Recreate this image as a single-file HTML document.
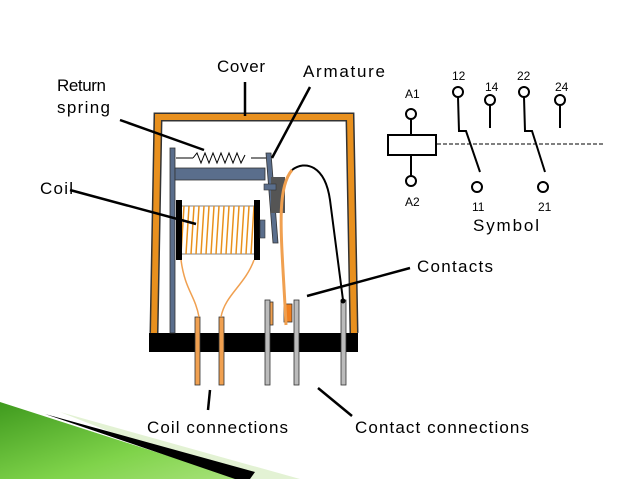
<!DOCTYPE html><html><head><style>body{margin:0;background:#fff}svg{display:block}text{font-family:"Liberation Sans",sans-serif;fill:#000}</style></head><body>
<svg width="638" height="479" viewBox="0 0 638 479">
<defs><linearGradient id="g" x1="0" y1="0" x2="1" y2="1"><stop offset="0" stop-color="#3f9a1e"/><stop offset="0.6" stop-color="#7fd34a"/><stop offset="1" stop-color="#a8e27a"/></linearGradient></defs>
<polygon points="60,412 300,479 230,479" fill="#e3f2d4"/>
<polygon points="0,402 240,479 0,479" fill="url(#g)"/>
<polygon points="45,414 255,472 250,479 235,479" fill="#000"/>
<polyline points="154,333 158,117 350,117 354,333" fill="none" stroke="#333" stroke-width="9"/>
<polyline points="154,333 158,117 350,117 354,333" fill="none" stroke="#E8901E" stroke-width="6"/>
<line x1="245" y1="82" x2="245" y2="116" stroke="#000" stroke-width="2.5"/>
<rect x="149" y="333" width="209" height="19" fill="#000"/>
<g stroke="#333" stroke-width="0.8">
<rect x="195" y="317" width="5" height="68" fill="#F0A050"/>
<rect x="219" y="317" width="5" height="68" fill="#F0A050"/>
<rect x="265" y="300" width="5" height="85" fill="#bbb"/>
<rect x="294" y="300" width="5" height="85" fill="#bbb"/>
<rect x="341" y="300" width="5" height="85" fill="#bbb"/>
<rect x="270" y="302" width="3" height="23" fill="#F0A050"/>
<rect x="284" y="304" width="8" height="18" fill="#F08020"/>
</g>
<rect x="170" y="148" width="5" height="185" fill="#5A6E8C" stroke="#333" stroke-width="0.8"/>
<rect x="175" y="168" width="90" height="12" fill="#5A6E8C" stroke="#333" stroke-width="0.8"/>
<line x1="176" y1="158" x2="193" y2="158" stroke="#000"/>
<polyline points="193,158 197,153 201,163 205,153 209,163 213,153 217,163 221,153 225,163 229,153 233,163 237,153 241,163 245,155" fill="none" stroke="#000"/>
<line x1="251" y1="158" x2="266" y2="158" stroke="#000"/>
<polygon points="266,153 271,153 278,243 273,243" fill="#5A6E8C" stroke="#333" stroke-width="0.8"/>
<rect x="271" y="177" width="14" height="36" fill="#555"/>
<rect x="264" y="184" width="12" height="6" fill="#5A6E8C" stroke="#333" stroke-width="0.6"/>
<rect x="181" y="206" width="74" height="48" fill="#fff" stroke="#333" stroke-width="0.6"/>
<g stroke="#E8901E" stroke-width="1.5">
<line x1="184" y1="206" x2="181" y2="254"/><line x1="189" y1="206" x2="186" y2="254"/><line x1="194" y1="206" x2="191" y2="254"/><line x1="199" y1="206" x2="196" y2="254"/><line x1="204" y1="206" x2="201" y2="254"/><line x1="209" y1="206" x2="206" y2="254"/><line x1="214" y1="206" x2="211" y2="254"/><line x1="219" y1="206" x2="216" y2="254"/><line x1="224" y1="206" x2="221" y2="254"/><line x1="229" y1="206" x2="226" y2="254"/><line x1="234" y1="206" x2="231" y2="254"/><line x1="239" y1="206" x2="236" y2="254"/><line x1="244" y1="206" x2="241" y2="254"/><line x1="249" y1="206" x2="246" y2="254"/><line x1="254" y1="206" x2="251" y2="254"/>
</g>
<rect x="176" y="200" width="6" height="60" fill="#000"/>
<rect x="254" y="200" width="6" height="60" fill="#000"/>
<rect x="260" y="220" width="5" height="18" fill="#5A6E8C" stroke="#333" stroke-width="0.6"/>
<path d="M181,260 C185,290 195,295 199,317" fill="none" stroke="#F0A050" stroke-width="1.5"/>
<path d="M254,260 C245,285 225,295 221,317" fill="none" stroke="#F0A050" stroke-width="1.5"/>
<path d="M292,170 C275,190 282,240 286,325" fill="none" stroke="#F0A050" stroke-width="3"/>
<path d="M292,170 C305,160 325,165 330,200 L343,300" fill="none" stroke="#000" stroke-width="2"/>
<circle cx="343" cy="301" r="2.5" fill="#000"/>
<g stroke="#000" stroke-width="2.5">
<line x1="310" y1="87" x2="272" y2="158"/>
<line x1="120" y1="120" x2="204" y2="150"/>
<line x1="70" y1="190" x2="196" y2="224"/>
<line x1="410" y1="268" x2="307" y2="296"/>
<line x1="210" y1="390" x2="208" y2="410"/>
<line x1="318" y1="388" x2="352" y2="416"/>
</g>
<g font-size="17">
<text x="217" y="72" textLength="48" lengthAdjust="spacing">Cover</text>
<text x="303" y="77" textLength="82" lengthAdjust="spacing">Armature</text>
<text x="57" y="91" textLength="49" lengthAdjust="spacing">Return</text>
<text x="57" y="113" textLength="53" lengthAdjust="spacing">spring</text>
<text x="40" y="194" textLength="33" lengthAdjust="spacing">Coil</text>
<text x="417" y="272" textLength="76" lengthAdjust="spacing">Contacts</text>
<text x="147" y="433" textLength="141" lengthAdjust="spacing">Coil connections</text>
<text x="355" y="433" textLength="174" lengthAdjust="spacing">Contact connections</text>
<text x="473" y="231" textLength="66" lengthAdjust="spacing">Symbol</text>
</g>
<g stroke="#000" stroke-width="2" fill="none">
<rect x="388" y="135" width="48" height="20"/>
<circle cx="411" cy="114" r="5"/><line x1="411" y1="119" x2="411" y2="135"/>
<circle cx="411" cy="181" r="5"/><line x1="411" y1="155" x2="411" y2="176"/>
<circle cx="458" cy="92" r="5"/><polyline points="458,97 459,131 466,131 480,172"/>
<circle cx="477" cy="187" r="5"/>
<circle cx="490" cy="100" r="5"/><line x1="490" y1="105" x2="490" y2="128"/>
<circle cx="524" cy="92" r="5"/><polyline points="524,97 525,131 532,131 545,172"/>
<circle cx="543" cy="187" r="5"/>
<circle cx="560" cy="100" r="5"/><line x1="560" y1="105" x2="560" y2="128"/>
<line x1="437" y1="144" x2="603" y2="144" stroke-width="1" stroke-dasharray="4,2"/>
</g>
<g font-size="12">
<text x="405" y="98">A1</text><text x="405" y="206">A2</text>
<text x="452" y="80">12</text><text x="485" y="91">14</text>
<text x="517" y="80">22</text><text x="555" y="91">24</text>
<text x="472" y="211">11</text><text x="538" y="211">21</text>
</g>
</svg></body></html>
